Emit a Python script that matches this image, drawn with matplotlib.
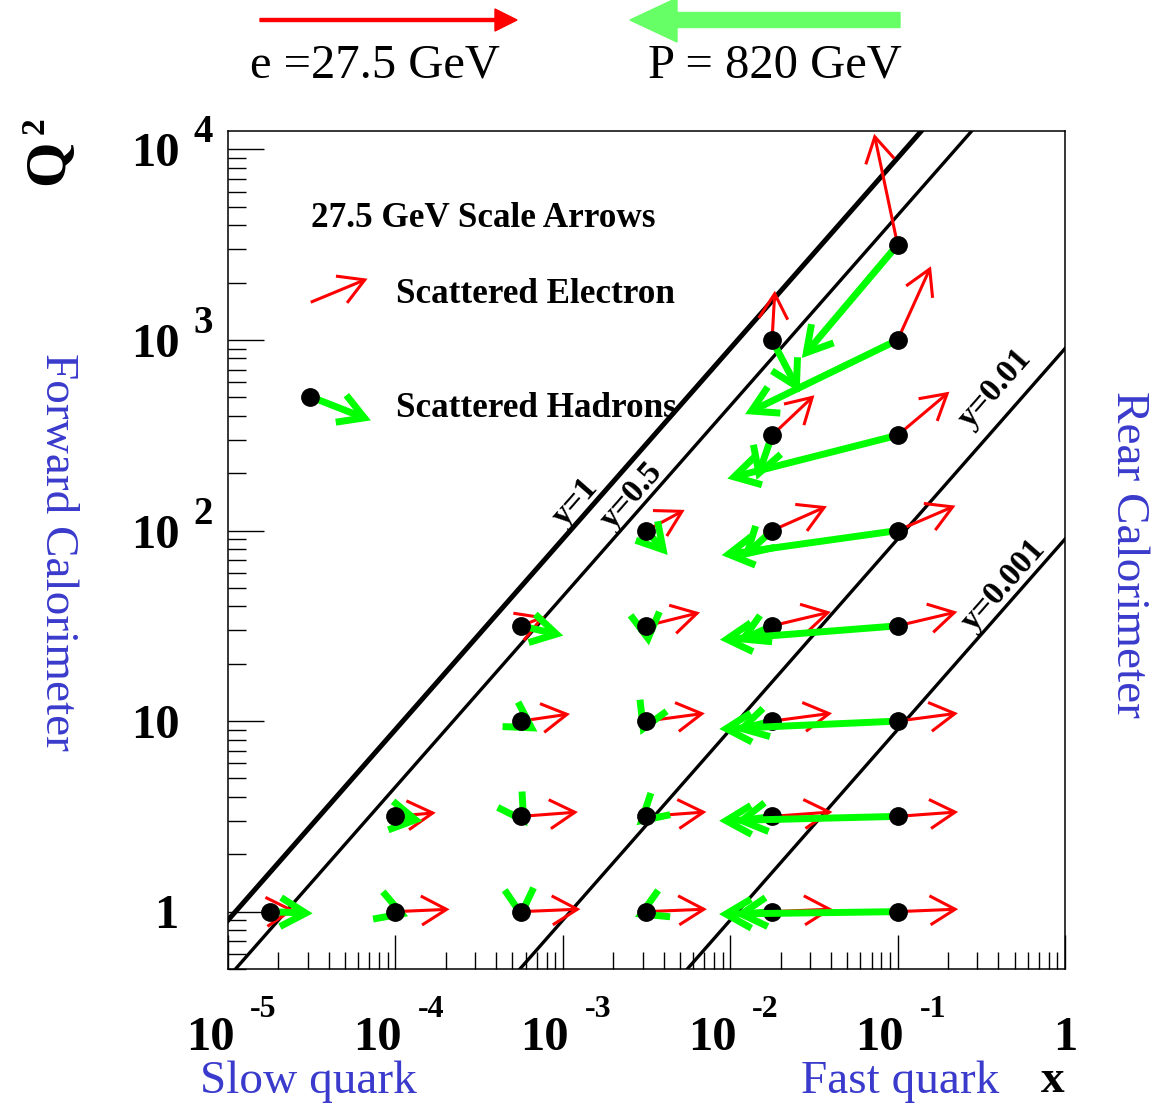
import numpy as np
import matplotlib
matplotlib.use("Agg")
import matplotlib.pyplot as plt
from matplotlib.patches import FancyArrow
from matplotlib.ticker import LogLocator, NullFormatter

plt.rcParams['font.family'] = ['Liberation Serif', 'DejaVu Serif']

# kinematic grid (x, Q2) of the points
x_pts = [1.778e-5, 1e-4, 5.623e-4, 3.162e-3, 0.01778, 0.1,
         1e-4, 5.623e-4, 3.162e-3, 0.01778, 0.1,
         5.623e-4, 3.162e-3, 0.01778, 0.1,
         5.623e-4, 3.162e-3, 0.01778, 0.1,
         3.162e-3, 0.01778, 0.1,
         0.01778, 0.1,
         0.01778, 0.1,
         0.1]
q2_pts = [1, 1, 1, 1, 1, 1,
          3.162, 3.162, 3.162, 3.162, 3.162,
          10, 10, 10, 10,
          31.62, 31.62, 31.62, 31.62,
          100, 100, 100,
          316.2, 316.2,
          1000, 1000,
          3162]
# scattered electron: momentum along beam / transverse (GeV)
ele_z = [10.35, 24.44, 26.95, 27.40, 27.47, 27.49,
         17.83, 25.76, 27.17, 27.42, 27.46,
         21.99, 26.45, 27.24, 27.38,
         10.07, 24.16, 26.67, 27.12,
         16.95, 24.88, 26.29,
         19.20, 23.66,
         1.26, 15.36,
         -10.89]
ele_t = [0.61, 0.94, 0.99, 1.00, 1.00, 1.00,
         1.43, 1.72, 1.77, 1.78, 1.78,
         2.83, 3.11, 3.15, 3.16,
         3.45, 5.30, 5.57, 5.61,
         8.06, 9.68, 9.94,
         15.93, 17.47,
         19.41, 29.82,
         45.32]
# scattered hadrons (struck quark)
had_z = [17.14, 2.98, 0.09, -2.49, -14.56, -81.99,
         9.59, 1.28, -2.26, -14.50, -81.96,
         5.05, -1.54, -14.32, -81.88,
         16.97, 0.74, -13.75, -81.62,
         7.96, -11.96, -80.79,
         -6.29, -78.16,
         11.65, -69.86,
         -43.61]
had_t = [-0.61, -0.94, -0.99, -1.00, -1.00, -1.00,
         -1.43, -1.72, -1.77, -1.78, -1.78,
         -2.83, -3.11, -3.15, -3.16,
         -3.45, -5.30, -5.57, -5.61,
         -8.06, -9.68, -9.94,
         -15.93, -17.47,
         -19.41, -29.82,
         -45.32]

cms_s = 90200.0  # 4 * 27.5 * 820 GeV^2
y_vals = [1, 0.5, 0.01, 0.001]
y_texts = ['y=1', 'y=0.5', 'y=0.01', 'y=0.001']
y_text_x = [1.18e-3, 2.59e-3, 0.382, 0.427]
y_text_q2 = [141, 152, 560, 51.9]

W, H = 1151, 1104
fig = plt.figure(figsize=(W / 100, H / 100), dpi=100)
ax = fig.add_axes([228 / W, 1 - 969 / H, 837 / W, 838 / H])
ax.set_xscale('log')
ax.set_yscale('log')
ax.set_xlim(1e-5, 1)
ax.set_ylim(0.5, 12500)

ax.xaxis.set_major_locator(LogLocator(base=10, numticks=10))
ax.xaxis.set_minor_locator(LogLocator(base=10, subs=np.arange(2, 10), numticks=30))
ax.yaxis.set_major_locator(LogLocator(base=10, numticks=10))
ax.yaxis.set_minor_locator(LogLocator(base=10, subs=np.arange(2, 10), numticks=30))
ax.xaxis.set_minor_formatter(NullFormatter())
ax.yaxis.set_minor_formatter(NullFormatter())
# tick lengths are in points (0.72 pt per pixel at 100 dpi)
ax.tick_params(which='both', direction='in', top=False, right=False,
               labelbottom=False, labelleft=False, width=1.0, color='black')
ax.tick_params(axis='y', which='major', length=26)
ax.tick_params(axis='y', which='minor', length=13)
ax.tick_params(axis='x', which='major', length=24.5)
ax.tick_params(axis='x', which='minor', length=12.2)
for sp in ax.spines.values():
    sp.set_linewidth(1.1)

# constant-y lines
xl = np.array([1e-5, 1.0])
for yv, lab, tx, tq in zip(y_vals, y_texts, y_text_x, y_text_q2):
    ax.plot(xl, yv * cms_s * xl, color='black', lw=3.6 if yv == 1 else 2.4, zorder=2)
    p0 = ax.transData.transform((1e-4, yv * cms_s * 1e-4))
    p1 = ax.transData.transform((1e-2, yv * cms_s * 1e-2))
    ang = np.degrees(np.arctan2(p1[1] - p0[1], p1[0] - p0[0]))
    ax.text(tx, tq, lab, rotation=ang, rotation_mode='anchor', ha='center',
            va='center', fontsize=24, fontweight='bold', zorder=3)

DEC_PER_GEV = 0.0125
HEAD_LEN = 29
HEAD_ANG = np.radians(30)


def arrow(x0, q0, pz, pt, color, lw, z):
    x1 = x0 * 10 ** (DEC_PER_GEV * pz)
    q1 = q0 * 10 ** (DEC_PER_GEV * pt)
    ax.plot([x0, x1], [q0, q1], color=color, lw=lw, solid_capstyle='butt',
            zorder=z, clip_on=False)
    a = ax.transData.transform((x0, q0))
    b = ax.transData.transform((x1, q1))
    d = b - a
    d = d / np.hypot(*d)
    back = -d
    pts = []
    for sgn in (1, -1):
        c, s = np.cos(sgn * HEAD_ANG), np.sin(sgn * HEAD_ANG)
        w = np.array([back[0] * c - back[1] * s, back[0] * s + back[1] * c]) * HEAD_LEN
        pts.append(ax.transData.inverted().transform(b + w))
    ax.plot([pts[0][0], x1, pts[1][0]], [pts[0][1], q1, pts[1][1]], color=color,
            lw=lw, solid_joinstyle='miter', solid_capstyle='butt', zorder=z, clip_on=False)


for i in range(len(x_pts)):
    z = 10 + 3 * i
    arrow(x_pts[i], q2_pts[i], ele_z[i], ele_t[i], 'red', 2.2, z)
    arrow(x_pts[i], q2_pts[i], had_z[i], had_t[i], '#00ff00', 5, z + 1)
    ax.plot(x_pts[i], q2_pts[i], 'o', color='black', ms=12.5, zorder=z + 2, clip_on=False)

# legend arrows
arrow(3.12e-5, 1578, 25.8, 9.4, 'red', 2.2, 200)
arrow(3.09e-5, 505, 26.0, -8.95, '#00ff00', 5, 200)
ax.plot(3.09e-5, 505, 'o', color='black', ms=12.5, zorder=201)

# tick labels
tk = dict(fontweight='bold', color='black', annotation_clip=False)
for q in [1, 10, 100, 1000, 10000]:
    e = int(round(np.log10(q)))
    if e == 0:
        ax.annotate('1', xy=(0, q), xycoords=('axes fraction', 'data'), xytext=(-62, -16),
                    textcoords='offset pixels', ha='center', va='baseline', fontsize=35, **tk)
        continue
    ax.annotate('10', xy=(0, q), xycoords=('axes fraction', 'data'), xytext=(-73, -17),
                textcoords='offset pixels', ha='center', va='baseline', fontsize=35, **tk)
    if e > 1:
        ax.annotate(str(e), xy=(0, q), xycoords=('axes fraction', 'data'), xytext=(-35, 7),
                    textcoords='offset pixels', ha='left', va='baseline', fontsize=28, **tk)
for xv in [1e-5, 1e-4, 1e-3, 1e-2, 1e-1, 1]:
    e = int(round(np.log10(xv)))
    if e == 0:
        ax.annotate('1', xy=(xv, 0), xycoords=('data', 'axes fraction'), xytext=(0, -81),
                    textcoords='offset pixels', ha='center', va='baseline', fontsize=35, **tk)
        continue
    ax.annotate('10', xy=(xv, 0), xycoords=('data', 'axes fraction'), xytext=(-18, -81),
                textcoords='offset pixels', ha='center', va='baseline', fontsize=35, **tk)
    ax.annotate(str(e), xy=(xv, 0), xycoords=('data', 'axes fraction'), xytext=(22, -48),
                textcoords='offset pixels', ha='left', va='baseline', fontsize=23, **tk)


def ftext(x, y, s, **kw):
    fig.text(x / 100, (H - y) / 100, s, transform=fig.dpi_scale_trans, **kw)


blue = '#3a3acc'
ftext(250, 78, 'e =27.5 GeV', fontsize=35, ha='left', va='baseline')
ftext(648, 78, 'P = 820 GeV', fontsize=35, ha='left', va='baseline')
ftext(308, 1093, 'Slow quark', fontsize=34, color=blue, ha='center', va='baseline')
ftext(900, 1093, 'Fast quark', fontsize=34, color=blue, ha='center', va='baseline')
ftext(1053, 1092, 'x', fontsize=34, fontweight='bold', ha='center', va='baseline')
ftext(57, 552, 'Forward Calorimeter', fontsize=34, color=blue, rotation=-90,
      ha='center', va='center')
ftext(1128, 554, 'Rear Calorimeter', fontsize=34, color=blue, rotation=-90,
      ha='center', va='center')
ftext(49, 162, 'Q', fontsize=42, fontweight='bold', rotation=90, ha='center', va='center')
ftext(35, 126, '2', fontsize=24, fontweight='bold', rotation=90, ha='center', va='center')
ftext(311, 227, '27.5 GeV Scale Arrows', fontsize=25.3, fontweight='bold', va='baseline')
ftext(396, 303, 'Scattered Electron', fontsize=25.3, fontweight='bold', va='baseline')
ftext(396, 417, 'Scattered Hadrons', fontsize=25.3, fontweight='bold', va='baseline')

# beam arrows at the top
fig.add_artist(FancyArrow(2.60, (H - 20) / 100, 2.57, 0, width=0.03, head_width=0.22,
                          head_length=0.22, length_includes_head=True, color='red',
                          transform=fig.dpi_scale_trans))
fig.add_artist(FancyArrow(9.00, (H - 20) / 100, -2.70, 0, width=0.15, head_width=0.44,
                          head_length=0.47, length_includes_head=True, color='#66ff66',
                          transform=fig.dpi_scale_trans))

fig.savefig('out.png', dpi=100)
